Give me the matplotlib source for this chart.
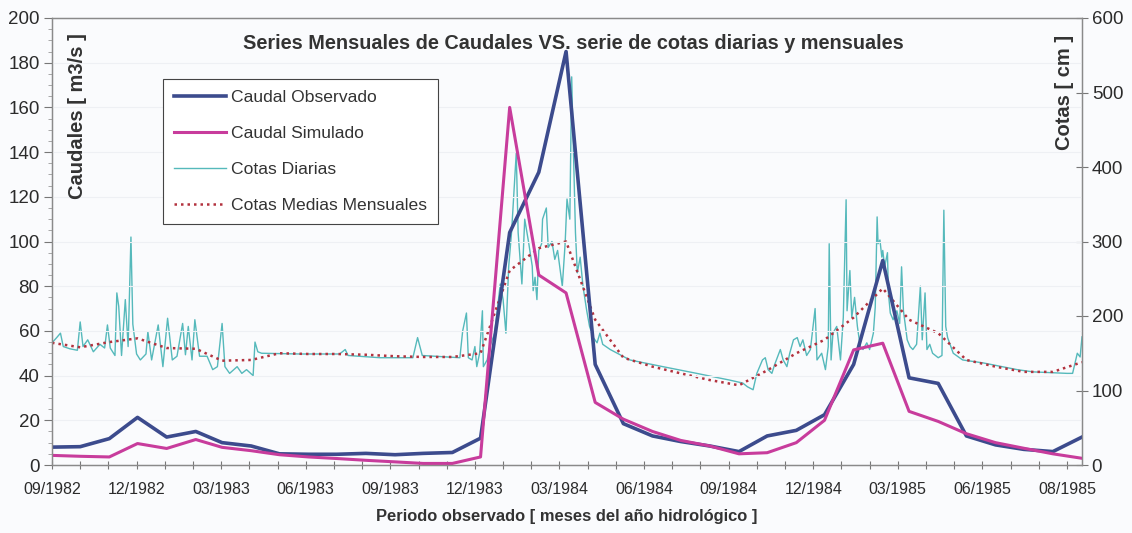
import datetime as dt
import matplotlib
matplotlib.use('Agg')
import matplotlib.pyplot as plt
import matplotlib.dates as mdates
from matplotlib.ticker import MultipleLocator, FixedLocator, FixedFormatter

plt.rcParams['font.family'] = ['Liberation Sans', 'DejaVu Sans']

# meses del periodo (inicio de cada mes), 09/1982 .. 09/1985
meses = [dt.date(1982 + (8 + k) // 12, (8 + k) % 12 + 1, 1) for k in range(37)]

# caudales mensuales [m3/s]
caudal_obs = [8, 8.2, 11.8, 21.3, 12.5, 15, 10, 8.5, 5, 4.8, 4.8, 5.2, 4.6, 5.2, 5.6, 12,
              104, 131, 185, 45, 18.5, 13, 10.5, 8.5, 6, 13, 15.5, 22.5, 45, 91.5, 39, 36.5,
              13, 9, 7, 6, 12.5]
caudal_sim = [4.3, 3.9, 3.6, 9.6, 7.4, 11.4, 7.9, 6.4, 4.6, 3.6, 2.9, 2.1, 1.4, 0.7, 0.7, 3.6,
              160, 85, 77, 28, 20.5, 15, 11, 8.5, 5, 5.5, 10, 20, 51.5, 54.5, 24, 19.5,
              14, 10, 7.5, 5, 3]

# cotas medias mensuales [cm]
cota_mensual = [164, 158, 165, 170, 157, 156, 140, 141, 150, 149, 149, 148, 146, 145, 145, 150,
                261, 291, 300, 195, 144, 132, 123, 114, 107, 127, 150, 168, 198, 237, 195, 177,
                141, 132, 125, 125, 138]

# cotas diarias [cm], dias contados desde 01/09/1982
dias_cota = [0, 5, 9, 12, 19, 27, 30, 33, 38, 44, 51, 56, 59, 62, 67, 69, 71, 74, 78, 81,
             84, 86, 90, 94, 100, 102, 106, 113, 118, 123, 128, 133, 139, 142, 145, 149, 152, 157, 165, 171,
             176, 181, 184, 189, 197, 202, 207, 214, 216, 219,
             223, 264, 306, 312, 315, 349, 384, 389, 394, 434,
             437, 441, 443, 447, 450, 452, 455, 458, 459, 463, 466, 471, 477, 480, 483, 486, 489, 494, 496, 500,
             501, 503, 507, 511, 512, 514, 516, 518, 521, 522, 526, 528, 532, 535, 538, 543, 546, 548, 551, 553,
             554, 557, 559, 562, 565, 569, 572, 576, 580, 583, 586,
             594, 615, 650, 686, 721, 735, 740, 746,
             750, 756, 759, 762, 766, 769, 775, 778, 782, 785, 789, 793, 796, 799, 803, 807, 812, 814, 819, 823,
             826, 827, 829, 831, 835, 839, 842, 845, 846, 849, 851, 854, 857, 860, 863, 867, 870, 874, 876, 878,
             879, 881, 883, 884, 886, 889, 890, 892, 895, 899, 902, 904, 906, 910, 913, 916, 920, 924, 926, 929,
             931, 934, 937, 943, 947, 949, 951, 953, 959,
             969, 991, 1027, 1044, 1080, 1086, 1091, 1094, 1096]
cota_diaria = [164, 171, 177, 159, 156, 154, 192, 159, 168, 152, 162, 157, 188, 157, 147, 231, 213, 147, 222, 159,
               306, 189, 149, 141, 149, 179, 141, 188, 132, 197, 141, 146, 190, 148, 186, 141, 195, 146, 146, 128,
               132, 190, 132, 123, 132, 123, 128, 120, 165, 152,
               150, 149, 149, 155, 147, 144, 144, 171, 147, 144,
               180, 204, 144, 141, 159, 132, 150, 207, 132, 141, 159, 177, 243, 222, 177, 267, 312, 419, 312, 243,
               270, 330, 300, 267, 234, 252, 222, 288, 297, 330, 345, 292, 300, 276, 288, 240, 297, 357, 330, 521,
               465, 312, 258, 279, 240, 207, 186, 171, 164, 177, 162,
               155, 141, 132, 123, 114, 110, 105, 101,
               123, 141, 144, 128, 123, 135, 155, 141, 132, 150, 168, 171, 159, 168, 147, 155, 210, 141, 150, 128,
               159, 297, 141, 177, 186, 141, 198, 356, 207, 261, 198, 225, 186, 159, 155, 164, 155, 177, 212, 333,
               297, 302, 279, 288, 266, 285, 231, 204, 195, 207, 190, 266, 207, 168, 159, 155, 162, 240, 168, 231,
               155, 162, 150, 144, 147, 342, 186, 171, 150,
               141, 137, 128, 125, 123, 123, 150, 145, 172]

etiquetas_x = ['09/1982', '12/1982', '03/1983', '06/1983', '09/1983', '12/1983', '03/1984',
               '06/1984', '09/1984', '12/1984', '03/1985', '06/1985', '08/1985']

inicio = dt.date(1982, 9, 1)
fechas_cota = [inicio + dt.timedelta(days=d) for d in dias_cota]

fondo = '#fafbfd'
fig = plt.figure(figsize=(11.32, 5.33), dpi=100)
fig.patch.set_facecolor(fondo)
ax = fig.add_axes([52 / 1132, 1 - 465 / 533, 1030 / 1132, 447 / 533])
ax2 = ax.twinx()

# cotas en el eje secundario
l3, = ax2.plot(fechas_cota, cota_diaria, color='#55b9bb', lw=1.0, label='Cotas Diarias')
l4, = ax2.plot(meses, cota_mensual, color='#b3323e', lw=1.8, ls=(0, (1, 1.6)),
               label='Cotas Medias Mensuales')

# caudales en el eje principal, por encima
l1, = ax.plot(meses, caudal_obs, color='#3c4b8d', lw=2.6, label='Caudal Observado')
l2, = ax.plot(meses, caudal_sim, color='#c83c9c', lw=2.2, label='Caudal Simulado')
ax.set_zorder(ax2.get_zorder() + 1)
ax.patch.set_visible(False)
ax2.patch.set_facecolor(fondo)

ax.set_xlim(mdates.date2num(meses[0]), mdates.date2num(meses[-1]))
ax.set_ylim(0, 200)
ax2.set_ylim(0, 600)

# eje x: una marca cada 30 dias, rotulo cada 3 marcas
marcas = [inicio + dt.timedelta(days=d) for d in range(0, 1081, 30)]
ax.xaxis.set_major_locator(FixedLocator(mdates.date2num(marcas[::3])))
ax.xaxis.set_major_formatter(FixedFormatter(etiquetas_x))
ax.xaxis.set_minor_locator(FixedLocator(mdates.date2num(marcas)))
ax.tick_params(axis='x', which='both', direction='inout', length=6, width=0.8,
               color='#777777', labelsize=11.5, labelcolor='#2b2b2b', pad=9)

ax.yaxis.set_major_locator(MultipleLocator(20))
ax.yaxis.set_minor_locator(MultipleLocator(5))
ax.tick_params(axis='y', which='major', direction='out', length=6, width=0.8,
               color='#777777', labelsize=13.5, labelcolor='#2b2b2b', pad=3)
ax.tick_params(axis='y', which='minor', direction='out', length=3, width=0.6, color='#999999')

ax2.yaxis.set_major_locator(MultipleLocator(100))
ax2.tick_params(axis='y', direction='inout', length=8, width=0.8,
                color='#777777', labelsize=13.5, labelcolor='#2b2b2b', pad=3)

for a in (ax, ax2):
    for s in a.spines.values():
        s.set_color('#8a8a8a')
        s.set_linewidth(0.9)

ax.grid(axis='y', which='major', color='#eef0f4', lw=0.8)

ax.text(0.506, 0.944, 'Series Mensuales de Caudales VS. serie de cotas diarias y mensuales',
        transform=ax.transAxes, ha='center', va='center', fontsize=14.3,
        fontweight='bold', color='#333333')
ax.text(0.025, 0.78, 'Caudales [ m3/s ]', transform=ax.transAxes, rotation=90,
        ha='center', va='center', fontsize=14.5, fontweight='bold', color='#333333')
ax.text(0.983, 0.834, 'Cotas [ cm ]', transform=ax.transAxes, rotation=90,
        ha='center', va='center', fontsize=14.5, fontweight='bold', color='#333333')
ax.set_xlabel('Periodo observado [ meses del año hidrológico ]', fontsize=11.9,
              fontweight='bold', color='#333333', labelpad=9)

leg = ax.legend(handles=[l1, l2, l3, l4], loc='upper left',
                bbox_to_anchor=((163 - 52) / 1030, (465 - 79) / 447),
                frameon=True, fancybox=False, edgecolor='#444444', facecolor='white',
                framealpha=1, handlelength=3.0, labelspacing=1.2,
                borderpad=0.6, handletextpad=0.3, borderaxespad=0,
                prop={'size': 12.6})
leg.get_frame().set_linewidth(0.8)
for t in leg.get_texts():
    t.set_color('#333333')

fig.savefig('out.png', dpi=100, facecolor=fig.get_facecolor())
